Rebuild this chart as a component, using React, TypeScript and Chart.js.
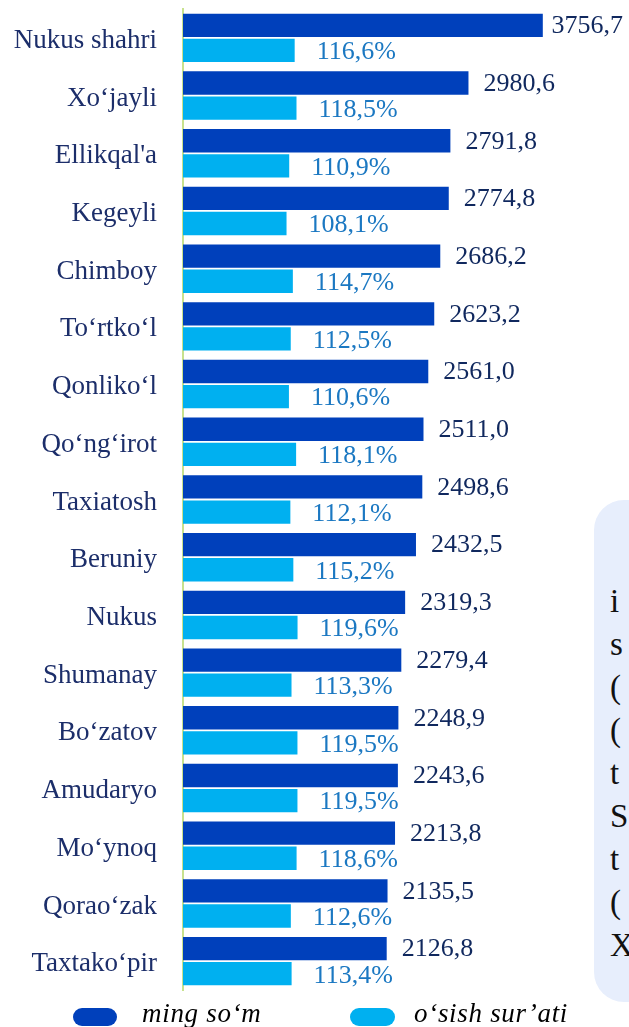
import React, { useEffect, useRef } from "react";
import { Chart, registerables } from "chart.js";

Chart.register(...registerables);

const categories = [
  "Nukus shahri",
  "Xo‘jayli",
  "Ellikqal'a",
  "Kegeyli",
  "Chimboy",
  "To‘rtko‘l",
  "Qonliko‘l",
  "Qo‘ng‘irot",
  "Taxiatosh",
  "Beruniy",
  "Nukus",
  "Shumanay",
  "Bo‘zatov",
  "Amudaryo",
  "Mo‘ynoq",
  "Qorao‘zak",
  "Taxtako‘pir",
];

const mingSom = [
  3756.7, 2980.6, 2791.8, 2774.8, 2686.2, 2623.2, 2561.0, 2511.0, 2498.6,
  2432.5, 2319.3, 2279.4, 2248.9, 2243.6, 2213.8, 2135.5, 2126.8,
];

const osishSurati = [
  116.6, 118.5, 110.9, 108.1, 114.7, 112.5, 110.6, 118.1, 112.1, 115.2, 119.6,
  113.3, 119.5, 119.5, 118.6, 112.6, 113.4,
];

const seriesNames = ["ming so‘m", "o‘sish sur’ati"];
const boxLetters = ["i", "s", "(", "(", "t", "S", "t", "(", "X"];

const DARK = "#0040bb";
const LIGHT = "#00b0f0";

const fmt = (v: number) => v.toFixed(1).replace(".", ",");

const labelPlugin = {
  id: "barValueLabels",
  afterDatasetsDraw(chart: any) {
    const ctx = chart.ctx;
    ctx.save();
    ctx.textBaseline = "middle";
    ctx.textAlign = "left";
    chart.data.datasets.forEach((ds: any, di: number) => {
      const meta = chart.getDatasetMeta(di);
      meta.data.forEach((el: any, i: number) => {
        const v = ds.data[i];
        if (di === 0) {
          ctx.font = "26px 'Liberation Serif'";
          ctx.fillStyle = "#10285e";
          const t = fmt(v);
          const w = ctx.measureText(t).width;
          let x = el.x + 15;
          if (x + w > 623) x = 623 - w;
          ctx.fillText(t, x, el.y + 1);
        } else {
          ctx.font = "26px 'Liberation Serif'";
          ctx.fillStyle = "#1b78c2";
          ctx.fillText(fmt(v) + "%", el.x + 22, el.y + 2);
        }
      });
    });
    ctx.restore();
  },
};

export default function App() {
  const ref = useRef<HTMLCanvasElement | null>(null);

  useEffect(() => {
    if (!ref.current) return;
    const chart = new Chart(ref.current, {
      type: "bar",
      data: {
        labels: categories,
        datasets: [
          {
            label: seriesNames[0],
            data: mingSom,
            backgroundColor: DARK,
            xAxisID: "x",
            categoryPercentage: 0.87,
            barPercentage: 0.93,
          },
          {
            label: seriesNames[1],
            data: osishSurati,
            backgroundColor: LIGHT,
            xAxisID: "x2",
            categoryPercentage: 0.87,
            barPercentage: 0.93,
          },
        ],
      },
      options: {
        indexAxis: "y",
        responsive: false,
        animation: false,
        devicePixelRatio: 1,
        layout: { padding: { top: 9, bottom: 37, left: 0, right: 15 } },
        plugins: {
          legend: { display: false },
          tooltip: { enabled: false },
        },
        scales: {
          x: { display: false, min: 0, max: 4500 },
          x2: { display: false, min: 0, max: 450 },
          y: {
            afterFit: (scale: any) => {
              scale.width = 183;
              scale.paddingTop = 0;
              scale.paddingBottom = 0;
            },
            grid: { drawOnChartArea: false, drawTicks: false },
            border: { display: true, color: "#c8e28e", width: 2 },
            ticks: {
              padding: 26,
              labelOffset: 3,
              color: "#1c2e6a",
              font: { family: "'Liberation Serif'", size: 27 },
            },
          },
        },
      },
      plugins: [labelPlugin],
    });
    return () => chart.destroy();
  }, []);

  const legendText = {
    position: "absolute" as const,
    top: 998,
    fontFamily: "'Liberation Serif'",
    fontStyle: "italic",
    fontSize: 27,
    letterSpacing: "0.7px",
    lineHeight: "30px",
    color: "#000",
    whiteSpace: "nowrap" as const,
  };

  return (
    <div
      style={{
        position: "fixed",
        left: 0,
        top: 0,
        width: 629,
        height: 1027,
        overflow: "hidden",
        background: "#fff",
      }}
    >
      <div
        style={{
          position: "absolute",
          left: 594,
          top: 500,
          width: 120,
          height: 502,
          borderRadius: 30,
          background: "#e7eefc",
        }}
      />
      <div
        style={{
          position: "absolute",
          left: 610,
          top: 580,
          fontFamily: "'Liberation Serif'",
          fontSize: 33,
          lineHeight: "43px",
          color: "#111",
        }}
      >
        {boxLetters.map((l, i) => (
          <div key={i}>{l}</div>
        ))}
      </div>
      <canvas
        ref={ref}
        width={629}
        height={1027}
        style={{ position: "absolute", left: 0, top: 0 }}
      />
      <div
        style={{
          position: "absolute",
          left: 73,
          top: 1008,
          width: 44,
          height: 18,
          borderRadius: 9,
          background: DARK,
        }}
      />
      <div style={{ ...legendText, left: 142 }}>{seriesNames[0]}</div>
      <div
        style={{
          position: "absolute",
          left: 350,
          top: 1008,
          width: 45,
          height: 18,
          borderRadius: 9,
          background: LIGHT,
        }}
      />
      <div style={{ ...legendText, left: 414 }}>{seriesNames[1]}</div>
    </div>
  );
}
